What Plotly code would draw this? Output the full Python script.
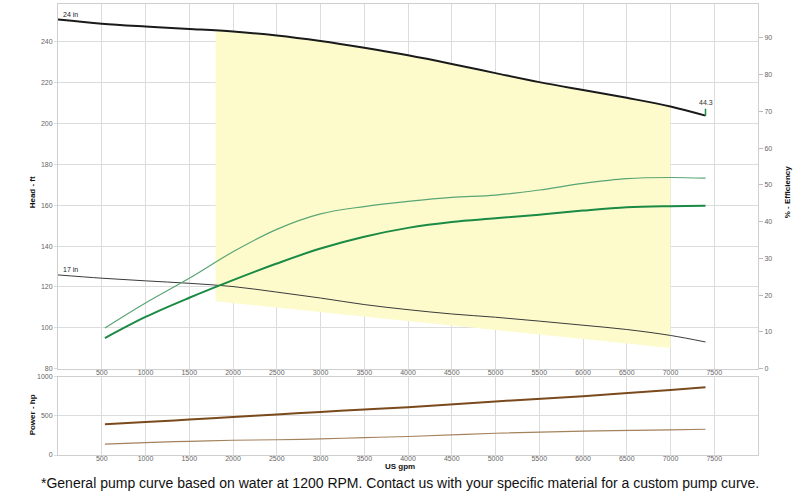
import numpy as np
import plotly.graph_objects as go

# ---------------- data ----------------
flow_head = [0, 500, 1000, 1500, 2000, 2500, 3000, 3500, 4000, 4500, 5000, 5500, 6000, 6500, 7000, 7400]
head_24in = [250.8, 248.8, 247.4, 246.2, 244.9, 243.0, 240.3, 237.0, 233.3, 229.1, 224.6, 220.2, 216.3, 212.5, 208.3, 203.8]
head_17in = [125.9, 124.3, 123.0, 121.8, 120.2, 117.5, 114.6, 111.4, 108.9, 106.8, 105.2, 103.3, 101.3, 99.2, 96.3, 93.1]

flow_eff = [536, 1000, 1500, 2000, 2500, 3000, 3500, 4000, 4500, 5000, 5500, 6000, 6500, 7000, 7400]
eff_thin = [11.1, 17.9, 24.6, 31.8, 37.9, 42.1, 44.1, 45.5, 46.6, 47.2, 48.6, 50.4, 51.7, 52.0, 51.8]
eff_thick = [8.35, 14.1, 19.3, 24.1, 28.6, 32.7, 35.9, 38.3, 39.9, 40.9, 41.9, 43.0, 43.9, 44.2, 44.3]

flow_pow = [536, 1000, 1500, 2000, 2500, 3000, 3500, 4000, 5000, 6000, 7000, 7400]
power_thick = [392, 421, 452, 485, 518, 550, 580, 610, 684, 751, 831, 865]
power_thin = [140, 158, 175, 188, 195, 205, 222, 236, 278, 304, 321, 329]

region_flow = [1800, 7000]          # preferred operating region (flow limits)
region_low_head = [113.0, 90.2]     # lower boundary of region (head)

bep_label = "44.3"
curve_labels = ["24 in", "17 in"]

x_ticks = list(range(500, 8000, 500))
head_ticks = list(range(80, 260, 20))
eff_ticks = list(range(0, 100, 10))
power_ticks = [0, 500, 1000]

footer = "*General pump curve based on water at 1200 RPM. Contact us with your specific material for a custom pump curve."

# ---------------- figure ----------------
FONT = "Liberation Sans, Arial, sans-serif"
GRID = "#dcdcdc"
TICKC = "#666666"

fig = go.Figure()

# yellow operating region, top bounded by the 24 in curve
fh = np.array(flow_head, dtype=float)
hh = np.array(head_24in, dtype=float)
inner = fh[(fh > region_flow[0]) & (fh < region_flow[1])]
top_x = [region_flow[0]] + list(inner) + [region_flow[1]]
top_y = list(np.interp(top_x, fh, hh))
poly_x = top_x + [region_flow[1], region_flow[0], region_flow[0]]
poly_y = top_y + [region_low_head[1], region_low_head[0], top_y[0]]
fig.add_trace(go.Scatter(x=poly_x, y=poly_y, mode="lines", fill="toself",
                         fillcolor="rgb(253,251,204)", line=dict(width=0),
                         hoverinfo="skip", showlegend=False, xaxis="x", yaxis="y"))

# head curves
fig.add_trace(go.Scatter(x=flow_head, y=head_24in, mode="lines",
                         line=dict(color="#1a1a1a", width=2, shape="spline", smoothing=1.0),
                         showlegend=False, xaxis="x", yaxis="y"))
fig.add_trace(go.Scatter(x=flow_head, y=head_17in, mode="lines",
                         line=dict(color="#3a3a3a", width=1, shape="spline", smoothing=1.0),
                         showlegend=False, xaxis="x", yaxis="y"))

# efficiency curves
fig.add_trace(go.Scatter(x=flow_eff, y=eff_thin, mode="lines",
                         line=dict(color="#5aa574", width=1.2, shape="spline", smoothing=1.0),
                         showlegend=False, xaxis="x", yaxis="y2"))
fig.add_trace(go.Scatter(x=flow_eff, y=eff_thick, mode="lines",
                         line=dict(color="#1a8a45", width=2, shape="spline", smoothing=1.0),
                         showlegend=False, xaxis="x", yaxis="y2"))

# small green marker at end of 24 in curve
fig.add_trace(go.Scatter(x=[flow_head[-1], flow_head[-1]], y=[head_24in[-1], head_24in[-1] + 3.4],
                         mode="lines", line=dict(color="#1a8a45", width=1.5),
                         showlegend=False, xaxis="x", yaxis="y"))

# power curves
fig.add_trace(go.Scatter(x=flow_pow, y=power_thick, mode="lines",
                         line=dict(color="#7a4a1c", width=2, shape="spline"),
                         showlegend=False, xaxis="x2", yaxis="y3"))
fig.add_trace(go.Scatter(x=flow_pow, y=power_thin, mode="lines",
                         line=dict(color="#a4825c", width=1.2, shape="spline"),
                         showlegend=False, xaxis="x2", yaxis="y3"))

H = 455.0  # plot area height in px
main_bottom = 1 - 368 / H
power_top = 1 - 376 / H

tickfont = dict(family=FONT, size=7, color=TICKC)
fig.update_layout(
    width=800, height=501,
    margin=dict(l=58, r=42, t=0, b=46),
    paper_bgcolor="white", plot_bgcolor="white",
    font=dict(family=FONT),
    xaxis=dict(domain=[0, 1], range=[0, 8000], anchor="y", tickvals=x_ticks,
               showgrid=True, gridcolor=GRID, gridwidth=1, zeroline=False,
               showline=True, linecolor="#cfcfcf", mirror=True, ticks="",
               ticklabelstandoff=-3, tickfont=tickfont),
    yaxis=dict(domain=[main_bottom, 1], range=[80, 258.4], anchor="x", tickvals=head_ticks,
               showgrid=True, gridcolor=GRID, gridwidth=1, zeroline=False,
               showline=True, linecolor="#cfcfcf", mirror=True,
               ticks="outside", ticklen=3, tickcolor=GRID, tickfont=tickfont),
    yaxis2=dict(overlaying="y", side="right", anchor="x", range=[0, 99.16], tickvals=eff_ticks,
                showgrid=False, zeroline=False, showline=False,
                ticks="outside", ticklen=4, tickcolor="#bbbbbb", tickfont=tickfont),
    xaxis2=dict(domain=[0, 1], range=[0, 8000], anchor="y3", tickvals=x_ticks,
                showgrid=True, gridcolor=GRID, gridwidth=1, zeroline=False,
                showline=True, linecolor="#cfcfcf", mirror=True, ticks="",
                ticklabelstandoff=-3, tickfont=tickfont),
    yaxis3=dict(domain=[0, power_top], range=[0, 1000], anchor="x2", tickvals=power_ticks,
                showgrid=True, gridcolor=GRID, gridwidth=1, zeroline=False,
                showline=True, linecolor="#cfcfcf", mirror=True,
                ticks="outside", ticklen=3, tickcolor=GRID, tickfont=tickfont),
)

def px_x(px):
    return (px - 58) / 700.0

def px_y(py):
    return 1 - py / H

def title_ann(text, x, y, size, angle=0):
    return dict(text=text, x=px_x(x), y=px_y(y), xref="paper", yref="paper",
                xanchor="center", yanchor="middle", textangle=angle, showarrow=False,
                font=dict(family=FONT, size=size, color="#111"))

ann = [
    title_ann("<b>Head - ft</b>", 32, 190, 8, -90),
    title_ann("<b>Power - hp</b>", 32, 415, 8, -90),
    title_ann("<b>% - Efficiency</b>", 787, 190, 8, -90),
    title_ann("<b>US gpm</b>", 400, 467, 8),
    title_ann(footer, 400, 483, 14),
]
ann.append(dict(text=curve_labels[0], x=flow_head[0], y=head_24in[0], xref="x", yref="y",
                xanchor="left", yanchor="bottom", xshift=3, showarrow=False,
                font=dict(family=FONT, size=7, color="#222")))
ann.append(dict(text=curve_labels[1], x=flow_head[0], y=head_17in[0], xref="x", yref="y",
                xanchor="left", yanchor="bottom", xshift=3, showarrow=False,
                font=dict(family=FONT, size=7, color="#222")))
ann.append(dict(text=bep_label, x=flow_head[-1], y=head_24in[-1] + 3.4, xref="x", yref="y",
                xanchor="center", yanchor="bottom", yshift=1, showarrow=False,
                font=dict(family=FONT, size=7, color="#333")))
fig.update_layout(annotations=ann)

fig.write_html("out.html")
